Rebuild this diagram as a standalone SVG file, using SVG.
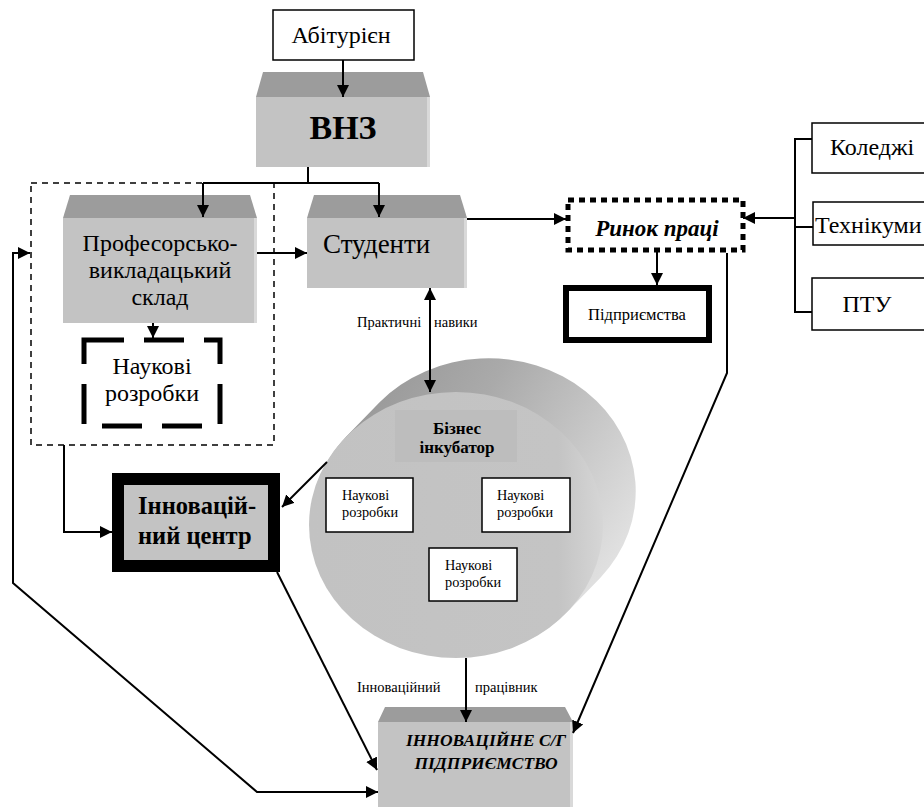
<svg xmlns="http://www.w3.org/2000/svg" width="924" height="807" viewBox="0 0 924 807" font-family="'Times New Roman', 'Liberation Serif', 'DejaVu Serif', serif">
<defs>
<marker id="ah" viewBox="0 0 12 12" refX="12" refY="6" markerWidth="12" markerHeight="12" markerUnits="userSpaceOnUse" orient="auto-start-reverse">
<path d="M0,0 L12,6 L0,12 z" fill="#000"/>
</marker>
<linearGradient id="side" x1="0" y1="0" x2="1" y2="0.6">
<stop offset="0" stop-color="#8e8e8e"/>
<stop offset="0.45" stop-color="#aaaaaa"/>
<stop offset="1" stop-color="#e2e2e2"/>
</linearGradient>
<linearGradient id="face" x1="0" y1="0" x2="1" y2="0">
<stop offset="0" stop-color="#c2c2c2"/>
<stop offset="0.85" stop-color="#c4c4c4"/>
<stop offset="1" stop-color="#d6d6d6"/>
</linearGradient>
</defs>
<style>
text{fill:#000}
.top{fill:#9c9c9c}
.face{fill:#c3c3c3}
.hl{fill:#d9d9d9}
.box{fill:#fff;stroke:#000;stroke-width:1.5}
.c{stroke:#000;stroke-width:2;fill:none}
.a{marker-end:url(#ah)}
.b{marker-start:url(#ah);marker-end:url(#ah)}
.sm{font-size:14.5px}
.nr{font-size:14.3px}
</style>

<g id="abiturient">
<rect class="box" x="273" y="10" width="141" height="50"/>
<text x="341" y="43" font-size="24" text-anchor="middle">Абітурієн</text>
</g>

<g id="vnz">
<polygon class="top" points="263,72 423,72 430,97 256,97"/>
<rect class="face" x="256" y="97" width="174" height="70"/>
<rect class="hl" x="427" y="97" width="3" height="70"/>
<text x="343" y="139" font-size="34" font-weight="bold" text-anchor="middle">ВНЗ</text>
</g>

<g id="group-dashed">
<rect x="31" y="183" width="243" height="262" fill="none" stroke="#000" stroke-width="1.5" stroke-dasharray="6,5"/>
</g>

<g id="pvs">
<polygon class="top" points="70,195 250,195 257,218 63,218"/>
<rect class="face" x="63" y="218" width="194" height="105"/>
<rect class="hl" x="254" y="218" width="3" height="105"/>
<text x="160" y="251" font-size="24" text-anchor="middle">Професорсько-</text>
<text x="160" y="278" font-size="24" text-anchor="middle">викладацький</text>
<text x="160" y="305" font-size="24" text-anchor="middle">склад</text>
</g>

<g id="naukovi-main">
<rect x="84" y="340" width="136" height="86" fill="none" stroke="#000" stroke-width="5" stroke-dasharray="40,20"/>
<text x="152" y="374" font-size="24" text-anchor="middle">Наукові</text>
<text x="152" y="401" font-size="24" text-anchor="middle">розробки</text>
</g>

<g id="studenty">
<polygon class="top" points="314,195 460,195 467,218 307,218"/>
<rect class="face" x="307" y="218" width="160" height="70"/>
<rect class="hl" x="464" y="218" width="3" height="70"/>
<text x="323" y="253" font-size="27">Студенти</text>
</g>

<g id="rynok">
<rect x="568" y="200" width="175" height="50" fill="#fff" stroke="#000" stroke-width="5" stroke-dasharray="6,5"/>
<text x="657" y="236" font-size="23" font-weight="bold" font-style="italic" text-anchor="middle">Ринок праці</text>
</g>

<g id="pidpryiemstva">
<rect x="566" y="288" width="143" height="52" fill="#fff" stroke="#000" stroke-width="6"/>
<text x="637" y="320" font-size="16.5" text-anchor="middle">Підприємства</text>
</g>

<g id="koledzhi">
<rect class="box" x="812" y="123" width="120" height="50"/>
<text x="830" y="155" font-size="24">Коледжі</text>
</g>
<g id="tekhnikumy">
<rect class="box" x="813" y="202" width="120" height="43"/>
<text x="815" y="233" font-size="24">Технікуми</text>
</g>
<g id="ptu">
<rect class="box" x="812" y="278" width="120" height="52"/>
<text x="867" y="312" font-size="24" text-anchor="middle">ПТУ</text>
</g>

<g id="biznes-inkubator">
<path d="M379.6,402.2 A147,133 0 0 1 600.4,577.8 L566.4,612.8 A147,133 0 0 1 345.6,437.2 Z" fill="url(#side)"/>
<ellipse cx="456" cy="525" rx="147" ry="133" fill="url(#face)"/>
<rect x="395" y="410" width="122" height="52" fill="#bdbdbd"/>
<text x="457" y="434" font-size="17" font-weight="bold" text-anchor="middle">Бізнес</text>
<text x="457" y="453" font-size="17" font-weight="bold" text-anchor="middle">інкубатор</text>
</g>
<g id="naukovi-1">
<rect class="box" x="326" y="478" width="87" height="54"/>
<text class="nr" x="342" y="500">Наукові</text>
<text class="nr" x="342" y="517">розробки</text>
</g>
<g id="naukovi-2">
<rect class="box" x="482" y="478" width="88" height="54"/>
<text class="nr" x="497" y="500">Наукові</text>
<text class="nr" x="497" y="517">розробки</text>
</g>
<g id="naukovi-3">
<rect class="box" x="429" y="548" width="88" height="53"/>
<text class="nr" x="445" y="570">Наукові</text>
<text class="nr" x="445" y="587">розробки</text>
</g>

<g id="innov-centr">
<rect x="118" y="479" width="156" height="87" fill="#c3c3c3" stroke="#000" stroke-width="12"/>
<text x="138" y="514" font-size="24.5" font-weight="bold">Інновацій-</text>
<text x="138" y="544" font-size="24.5" font-weight="bold">ний центр</text>
</g>

<g id="innov-pidpryiemstvo">
<polygon class="top" points="385,707 565,707 573,722 378,722"/>
<rect class="face" x="378" y="722" width="195" height="90"/>
<rect class="hl" x="570" y="722" width="3" height="90"/>
<text x="486" y="746" font-size="17.5" font-weight="bold" font-style="italic" text-anchor="middle">ІННОВАЦІЙНЕ С/Г</text>
<text x="486" y="769" font-size="17.5" font-weight="bold" font-style="italic" text-anchor="middle">ПІДПРИЄМСТВО</text>
</g>

<g id="connectors">
<path class="c a" d="M343,60 V97"/>
<path class="c" d="M308,167 V183 M203,183 H379"/>
<path class="c a" d="M203,183 V217"/>
<path class="c a" d="M379,183 V217"/>
<path class="c a" d="M257,253 H307"/>
<path class="c a" d="M153,323 V338"/>
<path class="c b" d="M430,288 V392"/>
<path class="c a" d="M467,219 H566"/>
<path class="c" d="M812,139 H795 V312 H812 M795,227 H813"/>
<path class="c a" d="M795,218 H743"/>
<path class="c a" d="M657,252 V285"/>
<path class="c a" d="M727,253 V373 L573,733"/>
<path class="c a" d="M64,445 V532 H112"/>
<path class="c a" d="M327,462 L282,507"/>
<path class="c a" d="M277,572 L377,770"/>
<path class="c a" d="M466,658 V722"/>
<path class="c b" d="M378,792 H257 L13,583 V253 H30"/>
</g>

<g id="labels">
<text class="sm" x="357" y="327">Практичні</text>
<text class="sm" x="434" y="327">навики</text>
<text class="sm" x="357" y="692">Інноваційний</text>
<text class="sm" x="475" y="692">працівник</text>
</g>
</svg>
